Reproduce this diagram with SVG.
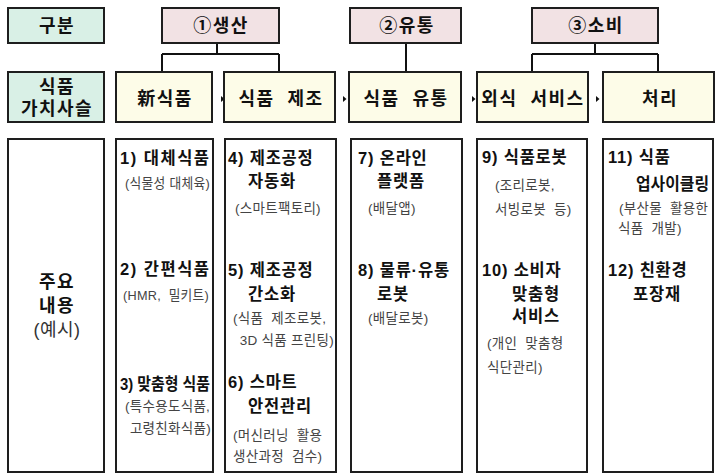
<svg xmlns="http://www.w3.org/2000/svg" width="719" height="475" viewBox="0 0 719 475">
<style>
.box{stroke:#1e1e1e;stroke-width:2}
.teal{fill:#d9f0e6}
.pink{fill:#f2e2e4}
.yel{fill:#fdfce8}
.wht{fill:#ffffff}
text{font-family:"Liberation Sans","Noto Sans CJK KR",sans-serif}
.h{font-size:18px;font-weight:bold;fill:#111;text-anchor:middle;letter-spacing:1.5px}
.b{font-size:16.5px;font-weight:bold;fill:#111;letter-spacing:0.8px}
.s{font-size:13.5px;fill:#444;letter-spacing:0.3px}
.c{fill:none;stroke:#111;stroke-width:2}
</style>
<rect width="719" height="475" fill="#fff"/>
<g id="connectors">
<path class="c" d="M217 43V54M162 54H279M162 54V72M279 54V72"/>
<path class="c" d="M406 43V72"/>
<path class="c" d="M595 43V54M532 54H658M532 54V72M658 54V72"/>
<path d="M221 96L224.5 99L221 102Z" fill="#111"/>
<path d="M343 96L346.5 99L343 102Z" fill="#111"/>
<path d="M472 96L475.5 99L472 102Z" fill="#111"/>
<path d="M596 96L599.5 99L596 102Z" fill="#111"/>
</g>
<g id="gubun"><rect class="box teal" x="8" y="8" width="96" height="35"/><text class="h" x="57" y="32">구분</text></g>
<g id="phase1"><rect class="box pink" x="162" y="8" width="117" height="35"/><text class="h" x="221" y="32">①생산</text></g>
<g id="phase2"><rect class="box pink" x="350" y="8" width="111" height="35"/><text class="h" x="407" y="32">②유통</text></g>
<g id="phase3"><rect class="box pink" x="532" y="8" width="126" height="35"/><text class="h" x="596" y="32">③소비</text></g>
<g id="chain"><rect class="box teal" x="8" y="72" width="96" height="50"/><text class="h" x="57" y="93">식품</text><text class="h" x="57" y="115">가치사슬</text></g>
<g id="vc1"><rect class="box yel" x="116" y="72" width="96" height="50"/><text class="h" x="165" y="105">新식품</text></g>
<g id="vc2"><rect class="box yel" x="224" y="72" width="111" height="50"/><text class="h" x="281" y="105" xml:space="preserve">식품  제조</text></g>
<g id="vc3"><rect class="box yel" x="349" y="72" width="112" height="50"/><text class="h" x="406" y="105" xml:space="preserve">식품  유통</text></g>
<g id="vc4"><rect class="box yel" x="477" y="72" width="111" height="50"/><text class="h" x="533" y="105" xml:space="preserve">외식  서비스</text></g>
<g id="vc5"><rect class="box yel" x="603" y="72" width="111" height="50"/><text class="h" x="660" y="105">처리</text></g>
<g id="main"><rect class="box wht" x="8" y="139" width="96" height="333"/>
<text class="h" x="57" y="288">주요</text><text class="h" x="57" y="312">내용</text><text class="h" x="57" y="336" style="font-weight:normal;fill:#333;letter-spacing:0.5px">(예시)</text></g>
<g id="col1"><rect class="box wht" x="116" y="139" width="97" height="333"/>
<text class="b" x="120" y="164" textLength="89" lengthAdjust="spacing" style="letter-spacing:0">1) 대체식품</text>
<text class="s" x="125" y="188" textLength="85" lengthAdjust="spacingAndGlyphs">(식물성 대체육)</text>
<text class="b" x="120" y="275" textLength="89" lengthAdjust="spacing" style="letter-spacing:0">2) 간편식품</text>
<text class="s" x="123" y="300" textLength="86" lengthAdjust="spacingAndGlyphs" xml:space="preserve">(HMR,  밀키트)</text>
<text class="b" x="120" y="390" textLength="90" lengthAdjust="spacingAndGlyphs" style="letter-spacing:0">3) 맞춤형 식품</text>
<text class="s" x="125" y="411">(특수용도식품,</text>
<text class="s" x="211" y="433" text-anchor="end">고령친화식품)</text>
</g>
<g id="col2"><rect class="box wht" x="225" y="139" width="111" height="333"/>
<text class="b" x="228" y="164">4) 제조공정</text>
<text class="b" x="248" y="187">자동화</text>
<text class="s" x="235" y="213" letter-spacing="1.3">(스마트팩토리)</text>
<text class="b" x="228" y="276">5) 제조공정</text>
<text class="b" x="248" y="300">간소화</text>
<text class="s" x="233" y="323" xml:space="preserve">(식품  제조로봇,</text>
<text class="s" x="334" y="345" text-anchor="end">3D 식품 프린팅)</text>
<text class="b" x="228" y="388">6) 스마트</text>
<text class="b" x="248" y="412">안전관리</text>
<text class="s" x="233" y="440" xml:space="preserve">(머신러닝  활용</text>
<text class="s" x="233" y="461" xml:space="preserve">생산과정  검수)</text>
</g>
<g id="col3"><rect class="box wht" x="351" y="139" width="111" height="333"/>
<text class="b" x="358" y="164">7) 온라인</text>
<text class="b" x="377" y="187">플랫폼</text>
<text class="s" x="368" y="213">(배달앱)</text>
<text class="b" x="358" y="276">8) 물류·유통</text>
<text class="b" x="377" y="300">로봇</text>
<text class="s" x="368" y="323">(배달로봇)</text>
</g>
<g id="col4"><rect class="box wht" x="477" y="139" width="110" height="333"/>
<text class="b" x="482" y="163">9) 식품로봇</text>
<text class="s" x="495" y="190">(조리로봇,</text>
<text class="s" x="495" y="214" xml:space="preserve">서빙로봇  등)</text>
<text class="b" x="482" y="276">10) 소비자</text>
<text class="b" x="512" y="300">맞춤형</text>
<text class="b" x="512" y="322">서비스</text>
<text class="s" x="487" y="348" xml:space="preserve">(개인  맞춤형</text>
<text class="s" x="487" y="372">식단관리)</text>
</g>
<g id="col5"><rect class="box wht" x="603" y="139" width="110" height="333"/>
<text class="b" x="608" y="163">11) 식품</text>
<text class="b" x="636" y="190" textLength="73" lengthAdjust="spacingAndGlyphs" style="letter-spacing:0">업사이클링</text>
<text class="s" x="619" y="213" xml:space="preserve">(부산물  활용한</text>
<text class="s" x="618" y="233" xml:space="preserve">식품  개발)</text>
<text class="b" x="608" y="276">12) 친환경</text>
<text class="b" x="633" y="300">포장재</text>
</g>
</svg>
